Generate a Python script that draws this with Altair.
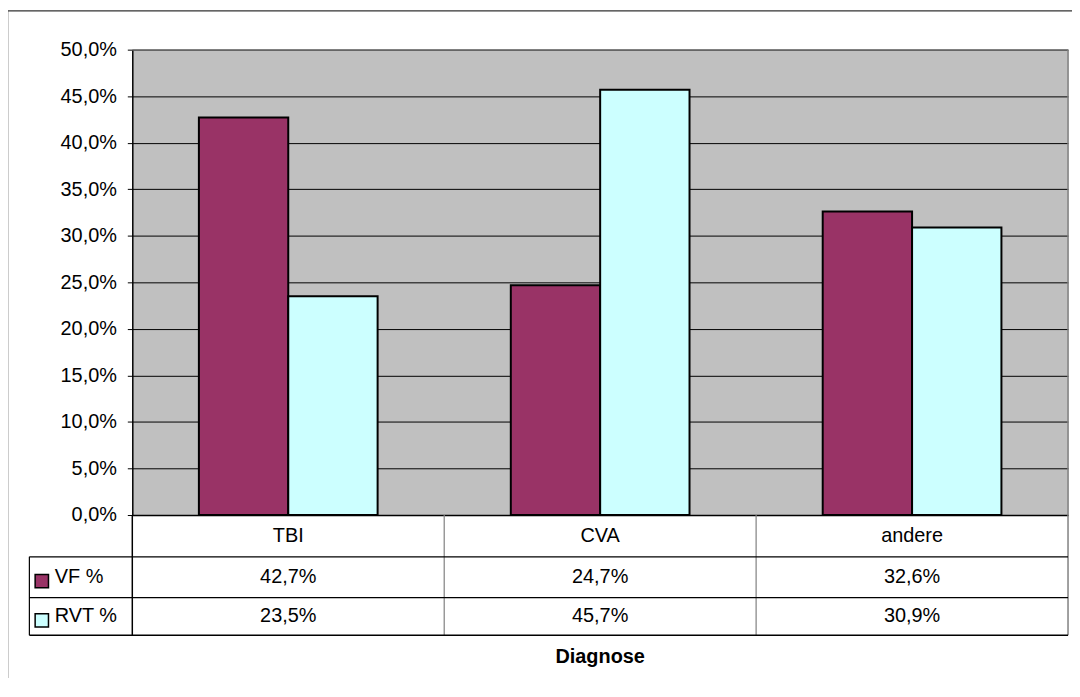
import altair as alt
import pandas as pd

# ---- data ----
diagnosen = ["TBI", "CVA", "andere"]
serien = ["VF %", "RVT %"]
vf_werte = [42.7, 24.7, 32.6]
rvt_werte = [23.5, 45.7, 30.9]
farben = ["#993366", "#CCFFFF"]
y_ticks = [0, 5, 10, 15, 20, 25, 30, 35, 40, 45, 50]

rows = []
for i, d in enumerate(diagnosen):
    rows.append({"Diagnose": d, "Serie": serien[0], "Wert": vf_werte[i]})
    rows.append({"Diagnose": d, "Serie": serien[1], "Wert": rvt_werte[i]})
df = pd.DataFrame(rows)

# ---- layout / style ----
W, H = 941, 468
FONT = "Liberation Sans"
FS = 20
ROW1, ROW2, ROW3 = 510, 551, 589     # table row bottoms (px below plot top)
TABLE_LEFT = -103.5
GRAY = "#808080"

x_scale = alt.Scale(domain=diagnosen, paddingInner=0.427, paddingOuter=0.2135)
color_scale = alt.Scale(domain=serien, range=farben)
fmt_pct = "replace(format({v}, '.1f'), '.', ',') + '%'"

bars = alt.Chart(df).mark_bar(stroke="black", strokeWidth=2).encode(
    x=alt.X("Diagnose:N", scale=x_scale, sort=diagnosen,
            axis=alt.Axis(labels=False, ticks=False, title=None, grid=False,
                          domainColor="black", domainWidth=1.5)),
    xOffset=alt.XOffset("Serie:N", scale=alt.Scale(domain=serien), sort=serien),
    y=alt.Y("Wert:Q", scale=alt.Scale(domain=[0, 50], nice=False),
            axis=alt.Axis(values=y_ticks, labelExpr=fmt_pct.format(v="datum.value"),
                          title=None, grid=True, gridColor="black", gridWidth=1,
                          tickSize=5, tickColor="black", domainColor="black",
                          domainWidth=1.5, labelPadding=11, labelFont=FONT,
                          labelFontSize=FS, labelColor="black")),
    color=alt.Color("Serie:N", scale=color_scale, legend=None),
)

frame = pd.DataFrame({"k": [0]})


def rule(x1, x2, y1, y2, color="black", width=1.0):
    return alt.Chart(frame).mark_rule(color=color, strokeWidth=width).encode(
        x=alt.value(x1), x2=alt.value(x2), y=alt.value(y1), y2=alt.value(y2))


lines = [
    rule(0, W, 0, 0, GRAY, 1.5),                 # plot top border
    rule(W, W, 0, ROW3, GRAY, 1.5),              # right border
    rule(0, 0, H, ROW3, "black", 1.5),           # axis extension through table
    rule(W / 3, W / 3, H, ROW3, GRAY, 1.2),
    rule(2 * W / 3, 2 * W / 3, H, ROW3, GRAY, 1.2),
    rule(TABLE_LEFT, TABLE_LEFT, ROW1, ROW3, "black", 1.2),
    rule(TABLE_LEFT, W, ROW1, ROW1, "black", 1.2),
    rule(TABLE_LEFT, W, ROW2, ROW2, "black", 1.2),
    rule(TABLE_LEFT, W, ROW3, ROW3, "black", 1.5),
]

outer = alt.Chart(frame).mark_rect(fill="transparent", stroke="#333333", strokeWidth=1.5).encode(
    x=alt.value(-125.5), x2=alt.value(W + 60), y=alt.value(-39), y2=alt.value(ROW3 + 200))

text_style = dict(font=FONT, fontSize=FS, color="black", baseline="middle")

cat_labels = alt.Chart(pd.DataFrame({"Diagnose": diagnosen})).mark_text(
    align="center", **text_style).encode(
    x=alt.X("Diagnose:N", scale=x_scale, sort=diagnosen),
    y=alt.value((H + ROW1) / 2),
    text="Diagnose:N")

value_rows = []
legend_rows = []
row_centers = [(ROW1 + ROW2) / 2, (ROW2 + ROW3) / 2]
for s, yc in zip(serien, row_centers):
    value_rows.append(
        alt.Chart(df).transform_filter(alt.datum.Serie == s)
        .transform_calculate(Label=fmt_pct.format(v="datum.Wert"))
        .mark_text(align="center", **text_style).encode(
            x=alt.X("Diagnose:N", scale=x_scale, sort=diagnosen),
            y=alt.value(yc),
            text="Label:N"))
    sdf = pd.DataFrame({"Serie": [s]})
    legend_rows.append(
        alt.Chart(sdf).mark_square(size=180, opacity=1, filled=True,
                                   stroke="black", strokeWidth=1.5).encode(
            x=alt.value(-91), y=alt.value(yc + 4),
            color=alt.Color("Serie:N", scale=color_scale, legend=None)))
    legend_rows.append(
        alt.Chart(sdf).mark_text(align="left", **text_style).encode(
            x=alt.value(-78), y=alt.value(yc), text="Serie:N"))

title_txt = alt.Chart(pd.DataFrame({"t": ["Diagnose"]})).mark_text(
    align="center", fontWeight="bold", **text_style).encode(
    x=alt.value(W / 2), y=alt.value(611), text="t:N")

chart = alt.layer(
    bars, *lines, cat_labels, *value_rows, *legend_rows, title_txt, outer
).properties(
    width=W, height=H,
    autosize=alt.AutoSizeParams(type="none"),
    padding={"left": 125, "top": 40, "right": 4, "bottom": 162},
    background="white",
).configure_view(fill="#C0C0C0", stroke="transparent")

chart.save("out.html", embed_options={"renderer": "svg", "actions": False})
